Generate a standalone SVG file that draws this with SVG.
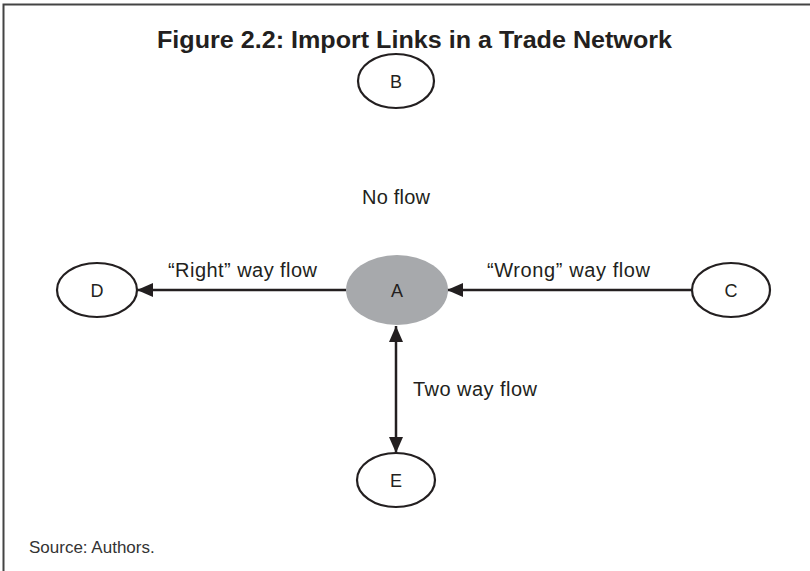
<svg xmlns="http://www.w3.org/2000/svg" width="810" height="571" viewBox="0 0 810 571">
<defs>
<marker id="ah" viewBox="0 0 16 14" refX="16" refY="7" markerWidth="16" markerHeight="14" markerUnits="userSpaceOnUse" orient="auto-start-reverse">
<path d="M0,0 L16,7 L0,14 Z" fill="#231f20"/>
</marker>
</defs>
<style>
.node ellipse{fill:#fff;stroke:#231f20;stroke-width:2.2}
.lbl{font-family:"Liberation Sans",Arial,sans-serif;font-size:20px;fill:#231f20}
.nl{font-family:"Liberation Sans",Arial,sans-serif;font-size:18px;fill:#231f20;text-anchor:middle}
.edge{stroke:#231f20;stroke-width:2.5;fill:none}
</style>
<rect width="810" height="571" fill="#fff"/>
<path d="M3.5,571 L3.5,4.5 L810,4.5" fill="none" stroke="#444" stroke-width="2"/>
<text x="157" y="48" textLength="515" lengthAdjust="spacingAndGlyphs" style="font-family:'Liberation Sans',Arial,sans-serif;font-size:23px;font-weight:bold;fill:#231f20">Figure 2.2: Import Links in a Trade Network</text>
<g id="connectors">
<line class="edge" x1="346" y1="290" x2="137" y2="290" marker-end="url(#ah)"/>
<line class="edge" x1="692" y1="290" x2="447" y2="290" marker-end="url(#ah)"/>
<line class="edge" x1="396" y1="326" x2="396" y2="453" marker-start="url(#ah)" marker-end="url(#ah)"/>
<text class="lbl" x="362" y="204" textLength="68">No flow</text>
<text class="lbl" x="168" y="277" textLength="149">“Right” way flow</text>
<text class="lbl" x="487" y="277" textLength="163">“Wrong” way flow</text>
<text class="lbl" x="413" y="396" textLength="124">Two way flow</text>
</g>
<g id="node-B" class="node"><ellipse cx="396" cy="81" rx="38" ry="27"/><text class="nl" x="396" y="88">B</text></g>
<g id="node-A"><ellipse cx="397" cy="290" rx="51" ry="35" fill="#a7a9ac"/><text class="nl" x="397" y="297">A</text></g>
<g id="node-D" class="node"><ellipse cx="97" cy="290" rx="40" ry="27"/><text class="nl" x="97" y="297">D</text></g>
<g id="node-C" class="node"><ellipse cx="731" cy="290" rx="39" ry="27"/><text class="nl" x="731" y="297">C</text></g>
<g id="node-E" class="node"><ellipse cx="396" cy="480" rx="39" ry="27"/><text class="nl" x="396" y="487">E</text></g>
<text x="29" y="553" style="font-family:'Liberation Sans',Arial,sans-serif;font-size:17px;fill:#333">Source: Authors.</text>
</svg>
